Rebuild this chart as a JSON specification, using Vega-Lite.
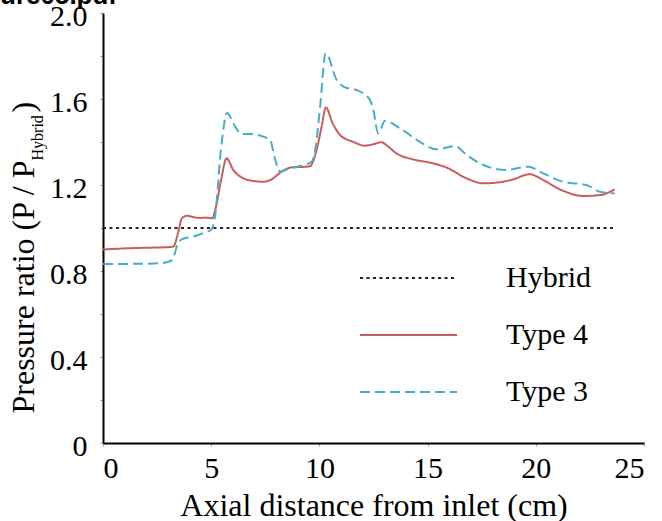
{
  "$schema": "https://vega.github.io/schema/vega-lite/v6.json",
  "width": 541,
  "height": 430,
  "autosize": {"type": "none"},
  "padding": {"left": 103, "top": 13, "right": 18, "bottom": 78},
  "background": "white",
  "config": {
    "view": {"stroke": null},
    "font": "Liberation Serif",
    "axis": {
      "labelFont": "Liberation Serif",
      "labelFontSize": 30,
      "labelColor": "black",
      "titleFont": "Liberation Serif",
      "titleColor": "black",
      "titleFontWeight": "normal",
      "domainColor": "black",
      "domainWidth": 2,
      "tickColor": "#9a9a9a",
      "tickSize": 3,
      "grid": false
    }
  },
  "title": {
    "text": "ure05.pdf",
    "anchor": "start",
    "frame": "group",
    "font": "Liberation Sans",
    "fontWeight": "bold",
    "fontSize": 26,
    "color": "black",
    "baseline": "alphabetic",
    "offset": 0,
    "dx": -103,
    "dy": 29
  },
  "data": {
    "values": [
      {"series": "Hybrid", "x": 0, "y": 1.0},
      {"series": "Hybrid", "x": 23.65, "y": 1.0},
      {"series": "Type 4", "x": 0, "y": 0.900},
      {"series": "Type 4", "x": 1, "y": 0.905},
      {"series": "Type 4", "x": 2, "y": 0.908},
      {"series": "Type 4", "x": 3, "y": 0.911},
      {"series": "Type 4", "x": 3.26, "y": 0.914},
      {"series": "Type 4", "x": 3.45, "y": 0.97},
      {"series": "Type 4", "x": 3.65, "y": 1.045},
      {"series": "Type 4", "x": 3.88, "y": 1.057},
      {"series": "Type 4", "x": 4.2, "y": 1.05},
      {"series": "Type 4", "x": 4.5, "y": 1.047},
      {"series": "Type 4", "x": 4.8, "y": 1.048},
      {"series": "Type 4", "x": 5.05, "y": 1.045},
      {"series": "Type 4", "x": 5.2, "y": 1.09},
      {"series": "Type 4", "x": 5.45, "y": 1.22},
      {"series": "Type 4", "x": 5.71, "y": 1.324},
      {"series": "Type 4", "x": 6.02, "y": 1.27},
      {"series": "Type 4", "x": 6.49, "y": 1.231},
      {"series": "Type 4", "x": 7.0, "y": 1.218},
      {"series": "Type 4", "x": 7.4, "y": 1.215},
      {"series": "Type 4", "x": 7.79, "y": 1.226},
      {"series": "Type 4", "x": 8.25, "y": 1.262},
      {"series": "Type 4", "x": 8.71, "y": 1.282},
      {"series": "Type 4", "x": 9.2, "y": 1.284},
      {"series": "Type 4", "x": 9.56, "y": 1.287},
      {"series": "Type 4", "x": 9.87, "y": 1.363},
      {"series": "Type 4", "x": 10.1, "y": 1.47},
      {"series": "Type 4", "x": 10.3, "y": 1.561},
      {"series": "Type 4", "x": 10.6, "y": 1.49},
      {"series": "Type 4", "x": 10.95, "y": 1.433},
      {"series": "Type 4", "x": 11.56, "y": 1.401},
      {"series": "Type 4", "x": 12.1, "y": 1.383},
      {"series": "Type 4", "x": 12.5, "y": 1.39},
      {"series": "Type 4", "x": 12.87, "y": 1.399},
      {"series": "Type 4", "x": 13.1, "y": 1.385},
      {"series": "Type 4", "x": 13.56, "y": 1.347},
      {"series": "Type 4", "x": 14.33, "y": 1.319},
      {"series": "Type 4", "x": 15.1, "y": 1.304},
      {"series": "Type 4", "x": 15.88, "y": 1.281},
      {"series": "Type 4", "x": 16.8, "y": 1.231},
      {"series": "Type 4", "x": 17.57, "y": 1.208},
      {"series": "Type 4", "x": 18.34, "y": 1.213},
      {"series": "Type 4", "x": 18.95, "y": 1.226},
      {"series": "Type 4", "x": 19.72, "y": 1.25},
      {"series": "Type 4", "x": 20.34, "y": 1.223},
      {"series": "Type 4", "x": 21.11, "y": 1.18},
      {"series": "Type 4", "x": 22.19, "y": 1.149},
      {"series": "Type 4", "x": 22.96, "y": 1.153},
      {"series": "Type 4", "x": 23.65, "y": 1.18},
      {"series": "Type 3", "x": 0, "y": 0.833},
      {"series": "Type 3", "x": 1, "y": 0.833},
      {"series": "Type 3", "x": 2, "y": 0.834},
      {"series": "Type 3", "x": 2.6, "y": 0.836},
      {"series": "Type 3", "x": 3.0, "y": 0.842},
      {"series": "Type 3", "x": 3.22, "y": 0.855},
      {"series": "Type 3", "x": 3.45, "y": 0.925},
      {"series": "Type 3", "x": 3.64, "y": 0.947},
      {"series": "Type 3", "x": 4.17, "y": 0.96},
      {"series": "Type 3", "x": 4.6, "y": 0.975},
      {"series": "Type 3", "x": 5.02, "y": 0.994},
      {"series": "Type 3", "x": 5.17, "y": 1.05},
      {"series": "Type 3", "x": 5.48, "y": 1.394},
      {"series": "Type 3", "x": 5.74, "y": 1.536},
      {"series": "Type 3", "x": 6.02, "y": 1.487},
      {"series": "Type 3", "x": 6.41, "y": 1.437},
      {"series": "Type 3", "x": 6.95, "y": 1.437},
      {"series": "Type 3", "x": 7.4, "y": 1.425},
      {"series": "Type 3", "x": 7.72, "y": 1.409},
      {"series": "Type 3", "x": 7.95, "y": 1.32},
      {"series": "Type 3", "x": 8.18, "y": 1.262},
      {"series": "Type 3", "x": 8.64, "y": 1.278},
      {"series": "Type 3", "x": 9.1, "y": 1.288},
      {"series": "Type 3", "x": 9.64, "y": 1.308},
      {"series": "Type 3", "x": 9.8, "y": 1.36},
      {"series": "Type 3", "x": 10.02, "y": 1.549},
      {"series": "Type 3", "x": 10.29, "y": 1.813},
      {"series": "Type 3", "x": 10.8, "y": 1.688},
      {"series": "Type 3", "x": 11.18, "y": 1.654},
      {"series": "Type 3", "x": 11.72, "y": 1.642},
      {"series": "Type 3", "x": 12.33, "y": 1.597},
      {"series": "Type 3", "x": 12.49, "y": 1.55},
      {"series": "Type 3", "x": 12.72, "y": 1.44},
      {"series": "Type 3", "x": 13.03, "y": 1.499},
      {"series": "Type 3", "x": 13.72, "y": 1.464},
      {"series": "Type 3", "x": 14.64, "y": 1.401},
      {"series": "Type 3", "x": 15.41, "y": 1.366},
      {"series": "Type 3", "x": 16.26, "y": 1.381},
      {"series": "Type 3", "x": 16.8, "y": 1.34},
      {"series": "Type 3", "x": 17.57, "y": 1.293},
      {"series": "Type 3", "x": 18.65, "y": 1.27},
      {"series": "Type 3", "x": 19.65, "y": 1.285},
      {"series": "Type 3", "x": 20.34, "y": 1.254},
      {"series": "Type 3", "x": 21.26, "y": 1.215},
      {"series": "Type 3", "x": 22.34, "y": 1.2},
      {"series": "Type 3", "x": 22.96, "y": 1.169},
      {"series": "Type 3", "x": 23.65, "y": 1.161}
    ]
  },
  "encoding": {
    "x": {
      "field": "x",
      "type": "quantitative",
      "scale": {"domain": [0, 25], "nice": false},
      "axis": {
        "values": [0, 5, 10, 15, 20, 25],
        "format": "d",
        "labelPadding": 7,
        "title": "Axial distance from inlet (cm)",
        "titleFontSize": 32,
        "titlePadding": 7
      }
    },
    "color": {
      "field": "series",
      "type": "nominal",
      "scale": {"domain": ["Hybrid", "Type 4", "Type 3"], "range": ["#222222", "#cc5b5b", "#4bacc6"]},
      "legend": {
        "title": null,
        "orient": "none",
        "legendX": 256,
        "legendY": 250,
        "symbolType": "stroke",
        "symbolSize": 9409,
        "symbolStrokeWidth": 2,
        "labelFont": "Liberation Serif",
        "labelFontSize": 30,
        "labelColor": "black",
        "labelOffset": 48,
        "clipHeight": 30,
        "rowPadding": 27,
        "labelLimit": 300
      }
    },
    "strokeDash": {
      "field": "series",
      "type": "nominal",
      "scale": {"domain": ["Hybrid", "Type 4", "Type 3"], "range": [[3, 3.5], [1, 0], [10, 5]]},
      "legend": {
        "title": null,
        "orient": "none",
        "legendX": 256,
        "legendY": 250,
        "symbolType": "stroke",
        "symbolSize": 9409,
        "symbolStrokeWidth": 2,
        "labelFont": "Liberation Serif",
        "labelFontSize": 30,
        "labelColor": "black",
        "labelOffset": 48,
        "clipHeight": 30,
        "rowPadding": 27,
        "labelLimit": 300
      }
    }
  },
  "layer": [
    {
      "transform": [{"filter": "datum.series !== 'Hybrid'"}],
      "mark": {"type": "line", "interpolate": "monotone", "strokeWidth": 2},
      "encoding": {
        "y": {
          "field": "y",
          "type": "quantitative",
          "scale": {"domain": [0, 2], "nice": false},
          "axis": {
            "values": [0, 0.2, 0.4, 0.6, 0.8, 1.0, 1.2, 1.4, 1.6, 1.8, 2.0],
            "labelExpr": "datum.value == 0 ? '0' : (round(datum.value * 10) % 4 == 0 ? format(datum.value, '.1f') : '')",
            "labelPadding": 13,
            "labelOffset": 3,
            "title": "Pressure ratio (P / P\u2003\u2002)",
            "titleFontSize": 32,
            "titleAngle": 270,
            "titleAlign": "left",
            "titleBaseline": "alphabetic",
            "titleX": -70,
            "titleY": 400
          }
        }
      }
    },
    {
      "transform": [{"filter": "datum.series === 'Hybrid'"}],
      "mark": {"type": "line", "strokeWidth": 2},
      "encoding": {
        "y": {
          "field": "y",
          "type": "quantitative",
          "axis": {
            "orient": "right",
            "labels": false,
            "ticks": false,
            "domain": false,
            "title": "Hybrid",
            "titleFontSize": 16,
            "titleAngle": 270,
            "titleAlign": "left",
            "titleBaseline": "alphabetic",
            "titleX": -602,
            "titleY": 147
          }
        }
      }
    }
  ],
  "resolve": {"axis": {"y": "independent"}}
}
